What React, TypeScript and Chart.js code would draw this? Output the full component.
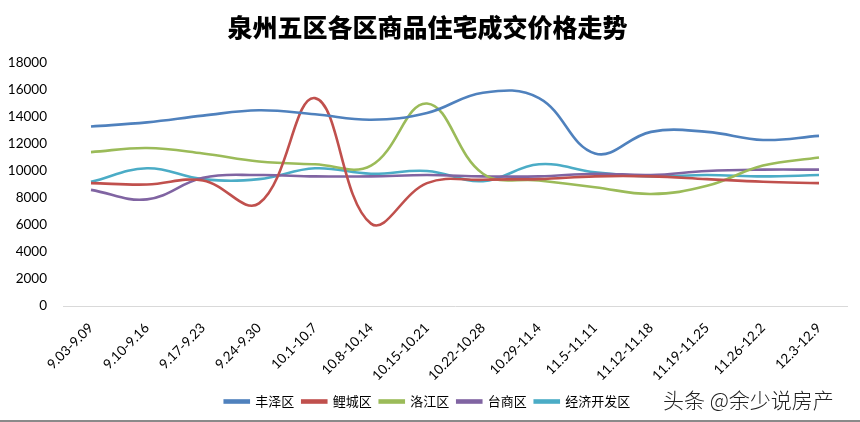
import React, { useEffect, useRef } from "react";
import { Chart, registerables } from "chart.js";

Chart.register(...registerables);

const TITLE = "泉州五区各区商品住宅成交价格走势";
const WATERMARK = "头条 @余少说房产";

const categories = [
  "9.03-9.09", "9.10-9.16", "9.17-9.23", "9.24-9.30", "10.1-10.7", "10.8-10.14", "10.15-10.21",
  "10.22-10.28", "10.29-11.4", "11.5-11.11", "11.12-11.18", "11.19-11.25", "11.26-12.2", "12.3-12.9",
];

const fengze = [13300, 13600, 14100, 14500, 14200, 13800, 14300, 15800, 15400, 11300, 12900, 12900, 12300, 12600];
const licheng = [9100, 9000, 9300, 7600, 15400, 6100, 9100, 9350, 9400, 9600, 9600, 9400, 9200, 9100];
const luojiang = [11400, 11700, 11300, 10700, 10500, 10400, 15000, 9800, 9300, 8800, 8300, 8900, 10400, 11000];
const taishang = [8600, 7900, 9500, 9700, 9600, 9600, 9700, 9600, 9600, 9800, 9700, 10000, 10100, 10100];
const jingji = [9200, 10200, 9400, 9400, 10200, 9800, 10000, 9250, 10500, 9900, 9600, 9700, 9600, 9700];

const seriesNames = ["丰泽区", "鲤城区", "洛江区", "台商区", "经济开发区"];
const seriesValues = [fengze, licheng, luojiang, taishang, jingji];
const seriesColors = ["#4F81BD", "#C0504D", "#9BBB59", "#8064A2", "#4BACC6"];

const yTicks = [0, 2000, 4000, 6000, 8000, 10000, 12000, 14000, 16000, 18000];

export default function App() {
  const ref = useRef<HTMLCanvasElement | null>(null);

  useEffect(() => {
    if (!ref.current) return;
    const chart = new Chart(ref.current, {
      type: "line",
      data: {
        labels: categories,
        datasets: seriesNames.map((name, i) => ({
          label: name,
          data: seriesValues[i],
          borderColor: seriesColors[i],
          backgroundColor: seriesColors[i],
          borderWidth: 2.6,
          pointRadius: 0,
          tension: 0.4,
          fill: false,
        })),
      },
      options: {
        responsive: false,
        animation: false,
        layout: { padding: { left: 8, right: 13, top: 0, bottom: 4 } },
        plugins: {
          title: {
            display: true,
            text: TITLE,
            color: "#000",
            font: { family: "'Noto Sans CJK SC'", size: 25, weight: "900" as any },
            padding: { top: 12, bottom: 21 },
          },
          legend: {
            position: "bottom",
            labels: {
              color: "#000",
              font: { family: "'Noto Sans CJK SC'", size: 13 },
              boxWidth: 24,
              boxHeight: 2,
              padding: 8,
            },
          },
          tooltip: { enabled: false },
        },
        scales: {
          x: {
            offset: true,
            grid: { display: false },
            border: { display: true, color: "#D9D9D9", width: 1 },
            ticks: {
              color: "#000",
              font: { family: "Lato", size: 13.5 },
              minRotation: 45,
              maxRotation: 45,
              autoSkip: false,
              padding: 6,
            },
            afterFit: (s: any) => {
              s.height = 81;
            },
          },
          y: {
            min: 0,
            max: 18000,
            afterBuildTicks: (s: any) => {
              s.ticks = yTicks.map((v) => ({ value: v }));
            },
            grid: { display: false },
            border: { display: false },
            ticks: {
              color: "#000",
              font: { family: "Lato", size: 13.5 },
              padding: 8,
              callback: (v: any) => String(v),
            },
            afterFit: (s: any) => {
              s.width = 55;
            },
          },
        },
      },
    });
    return () => chart.destroy();
  }, []);

  return (
    <div style={{ position: "absolute", left: 0, top: 0, width: 860, height: 422, background: "#fff", overflow: "hidden" }}>
      <canvas ref={ref} width={860} height={422} style={{ display: "block" }} />
      <div
        style={{
          position: "absolute",
          left: 663,
          top: 385,
          fontFamily: "'Noto Sans CJK SC'",
          fontSize: 21,
          fontWeight: 300,
          color: "#222",
          whiteSpace: "nowrap",
          lineHeight: "28px",
          textShadow: "0 0 2px #fff",
        }}
      >
        {WATERMARK}
      </div>
      <div style={{ position: "absolute", left: 0, top: 420, width: 860, height: 2, background: "#8a8a8a" }} />
    </div>
  );
}
